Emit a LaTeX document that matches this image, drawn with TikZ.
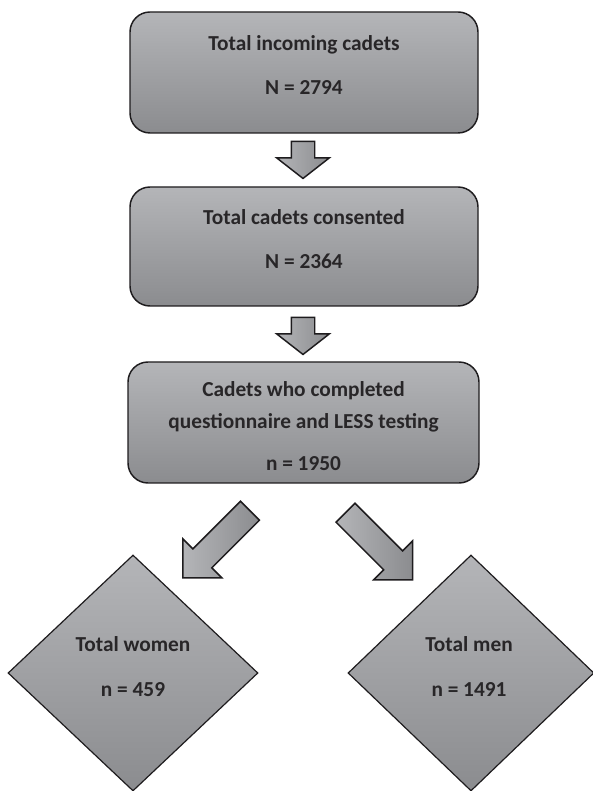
\documentclass[tikz,border=0pt]{standalone}
\usepackage{fontspec}
\setmainfont{Carlito}
\usetikzlibrary{shapes.geometric,shapes.arrows,calc}

\definecolor{boxtop}{RGB}{180,181,184}
\definecolor{boxbot}{RGB}{139,140,143}
\definecolor{edgecol}{RGB}{30,28,30}
\definecolor{txtcol}{RGB}{40,38,40}

\tikzset{
  stage/.style={draw=edgecol, line width=1.1pt, rounded corners=15pt, top color=boxtop, bottom color=boxbot, inner sep=0pt},
  split/.style={diamond, draw=edgecol, line width=0.9pt, top color=boxtop, bottom color=boxbot, inner sep=0pt},
  lbl/.style={text=txtcol, font=\bfseries\fontsize{16}{19.2}\selectfont, align=center, inner sep=0pt},
  downarrow/.style={single arrow, draw=edgecol, line width=1.1pt, left color=boxtop, right color=boxbot, inner xsep=0pt, inner ysep=8.25pt, minimum height=27.75pt, single arrow head extend=10.9pt, single arrow tip angle=104, anchor=tail, rotate=-90},
  slantarrow/.style={single arrow, draw=edgecol, line width=1.1pt, left color=boxtop, right color=boxbot, inner xsep=0pt, inner ysep=9.5pt, minimum height=71.25pt, single arrow head extend=10.7pt, single arrow tip angle=90, anchor=tail}
}

\begin{document}
\begin{tikzpicture}[x=0.75pt,y=0.75pt]
  \useasboundingbox (0,0) rectangle (592,791);

  \node[stage, minimum width=261pt, minimum height=90.75pt] (box1) at (304,718.5) {};
  \node[stage, minimum width=261pt, minimum height=89.25pt] (box2) at (304,544.5) {};
  \node[stage, minimum width=263.25pt, minimum height=90.75pt] (box3) at (303.5,368.5) {};
  \node[split, minimum width=187.5pt, minimum height=177pt] (women) at (133,118) {};
  \node[split, minimum width=184.5pt, minimum height=177pt] (men) at (471,118) {};

  \node[lbl] (t1) at ($(box1.center)+(0,7.5)$) {Total incoming cadets\\[13.8pt]N = 2794};
  \node[lbl] (t2) at ($(box2.center)+(0,7.5)$) {Total cadets consented\\[13.8pt]N = 2364};
  \node[lbl] (t3) at ($(box3.center)+(0,-3.5)$) {Cadets who completed\\[4.8pt]questionnaire and LESS testing\\[12.3pt]n = 1950};
  \node[lbl] (t4) at ($(women.center)+(0,6.5)$) {Total women\\[14.5pt]n = 459};
  \node[lbl] (t5) at ($(men.center)+(-2,6.5)$) {Total men\\[14.5pt]n = 1491};

  \node[downarrow] (a1) at ($(box1.south)+(-1,-7)$) {};
  \node[downarrow] (a2) at ($(box2.south)+(-1,-10)$) {};
  \node[slantarrow, rotate=-135] (a3) at ($(box3.south)+(-53,-26.5)$) {};
  \node[slantarrow, rotate=-45] (a4) at ($(box3.south)+(41.5,-28.5)$) {};
\end{tikzpicture}
\end{document}
